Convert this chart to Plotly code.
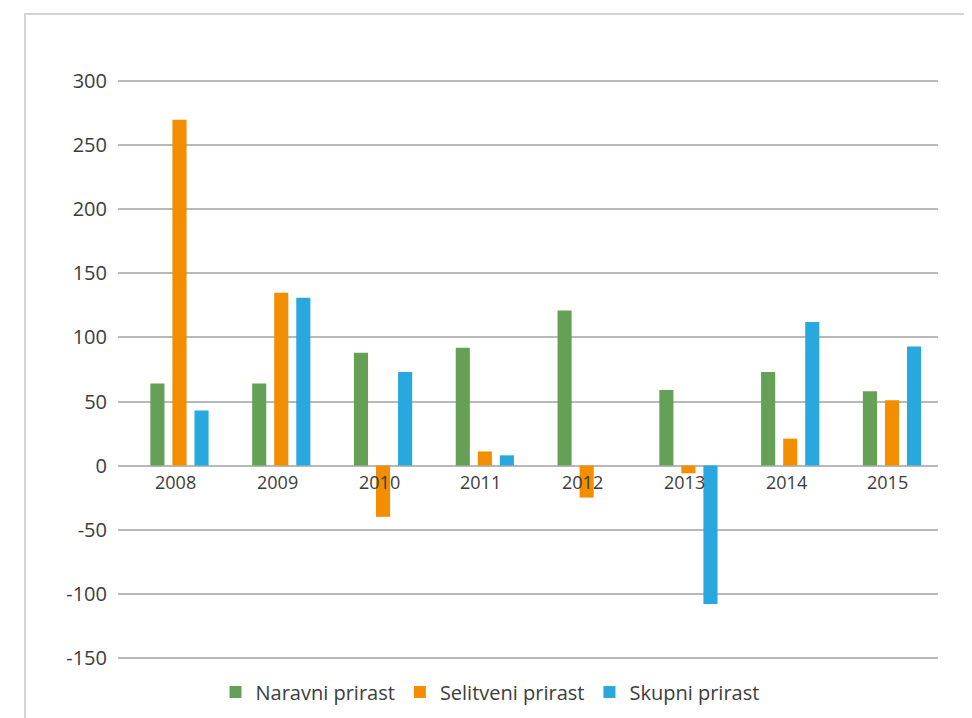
import plotly.graph_objects as go

# population growth by year
years = ["2008", "2009", "2010", "2011", "2012", "2013", "2014", "2015"]
naravni = [64, 64, 88, 92, 121, 59, 73, 58]
selitveni = [270, 135, -40, 11, -25, -6, 21, 51]
skupni = [43, 131, 73, 8, 0, -108, 112, 93]

series_names = ["Naravni prirast", "Selitveni prirast", "Skupni prirast"]
colors = ["#64a056", "#f28e00", "#29a8e0"]

# y ticks, labelled with a plain hyphen like the original
y_ticks = [-150, -100, -50, 0, 50, 100, 150, 200, 250, 300]
y_tick_labels = [str(v) for v in y_ticks]

font_family = "Open Sans, Noto Sans, sans-serif"
text_color = "#3c3c3c"

fig = go.Figure()
for name, vals, col in zip(series_names, [naravni, selitveni, skupni], colors):
    fig.add_trace(go.Bar(x=years, y=vals, name=name, marker_color=col,
                         marker_line_width=0))

# year labels sit on the zero line, like the original
for i, yr in enumerate(years):
    fig.add_annotation(x=i, y=0, text=yr, showarrow=False, yshift=-16,
                       xshift=-4,
                       font=dict(size=18, color=text_color, family=font_family))

# light frame around the chart (cut off at right/bottom)
fig.add_shape(type="rect", xref="paper", yref="paper",
              x0=-0.1134, x1=1.2, y0=-0.3, y1=1.114,
              line=dict(color="#d4d4d4", width=2), layer="below")

# page body has an 8px margin, so the figure is 8px smaller each way
fig.update_layout(
    width=964, height=710,
    margin=dict(l=110, r=34, t=72, b=59, autoexpand=False),
    paper_bgcolor="white", plot_bgcolor="white",
    barmode="group", bargap=0.35, bargroupgap=0.36,
    font=dict(family=font_family, color=text_color, size=18),
    legend=dict(orientation="h", x=0.5, xanchor="center", xref="container",
                y=0.0366, yanchor="middle", yref="container",
                font=dict(size=20), itemclick=False),
    xaxis=dict(type="category", showticklabels=False, showgrid=False,
               zeroline=False, showline=False, ticks="",
               range=[-0.604, 7.452]),
    yaxis=dict(range=[-151, 301], tickvals=y_ticks, ticktext=y_tick_labels,
               showgrid=True, gridcolor="#b8b8b8", gridwidth=1.5,
               zeroline=True, zerolinecolor="#b8b8b8", zerolinewidth=1.5,
               showline=False, ticks="", ticklabelstandoff=10,
               tickfont=dict(size=20)),
)

fig.write_html("out.html")
